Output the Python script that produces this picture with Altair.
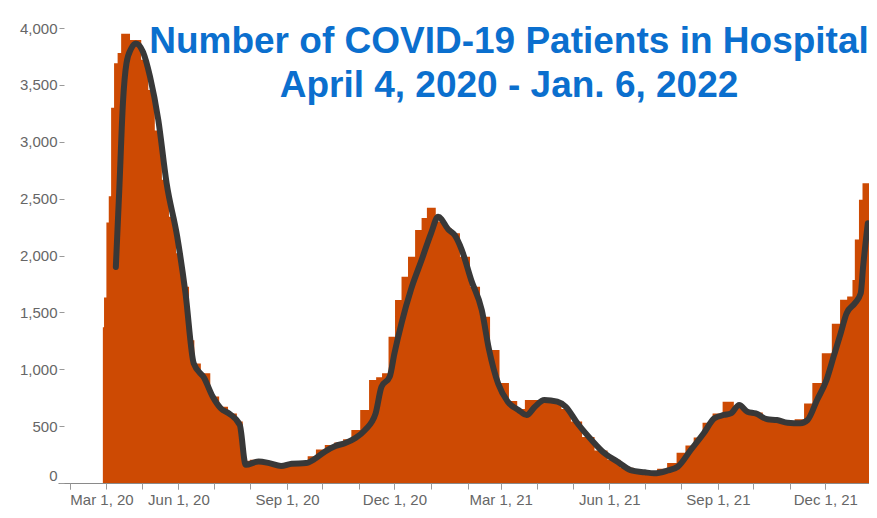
import altair as alt
import pandas as pd

# ---- data ----
area_dates = [
    "2020-03-29", "2020-03-31", "2020-04-02", "2020-04-04", "2020-04-06", "2020-04-09",
    "2020-04-12", "2020-04-15", "2020-04-27", "2020-05-04", "2020-05-09", "2020-05-15",
    "2020-05-21", "2020-05-27", "2020-06-02", "2020-06-07", "2020-06-13", "2020-06-16",
    "2020-06-24", "2020-07-02", "2020-07-09", "2020-07-17", "2020-07-24", "2020-07-27",
    "2020-08-05", "2020-08-13", "2020-08-21", "2020-08-29", "2020-09-06", "2020-09-15",
    "2020-09-22", "2020-09-29", "2020-10-07", "2020-10-15", "2020-10-22", "2020-10-29",
    "2020-11-06", "2020-11-13", "2020-11-18", "2020-11-23", "2020-11-29", "2020-12-04",
    "2020-12-10", "2020-12-15", "2020-12-22", "2020-12-26", "2020-12-31", "2021-01-10",
    "2021-01-16", "2021-01-21",
    "2021-01-30", "2021-02-07", "2021-02-16", "2021-02-24", "2021-03-04", "2021-03-12",
    "2021-03-18", "2021-03-25", "2021-04-11", "2021-04-18", "2021-04-25", "2021-05-04",
    "2021-05-14", "2021-05-25", "2021-06-05", "2021-06-16", "2021-06-27", "2021-07-07",
    "2021-07-16", "2021-07-24", "2021-08-01", "2021-08-08", "2021-08-15", "2021-08-23",
    "2021-09-01", "2021-09-09", "2021-09-20", "2021-09-27", "2021-10-05", "2021-10-13",
    "2021-10-22", "2021-10-31", "2021-11-10", "2021-11-16", "2021-11-24", "2021-12-02",
    "2021-12-11", "2021-12-16", "2021-12-23", "2021-12-25", "2021-12-27", "2022-01-01",
    "2022-01-02", "2022-01-07",
]
area_values = [
    1370, 1630, 2290, 2520, 3300, 3690,
    3780, 3950, 3895, 3720, 3455, 3100,
    2665, 2340, 2020, 1725, 1255, 1050,
    965, 760, 670, 610, 540, 195,
    205, 195, 175, 165, 180, 185,
    235, 295, 335, 355, 385, 466,
    642, 905, 930, 964, 1286, 1609,
    1814, 1990, 2224, 2330, 2420, 2300,
    2240, 2195,
    1990, 1726, 1462, 1169, 880, 720,
    650, 730, 720, 700, 650, 540,
    405, 285, 205, 135, 105, 95,
    125, 175, 265, 330, 400, 530,
    612, 715, 660, 630, 620, 570,
    560, 545, 560, 700, 880, 1140,
    1400, 1610, 1640, 1785, 2140, 2490,
    2635, 2635,
]

line_dates = [
    "2020-04-09", "2020-04-12", "2020-04-15", "2020-04-18", "2020-04-22", "2020-04-26",
    "2020-05-02", "2020-05-08", "2020-05-15", "2020-05-22", "2020-05-31", "2020-06-07",
    "2020-06-14", "2020-06-23", "2020-06-30", "2020-07-07", "2020-07-14", "2020-07-23",
    "2020-07-28", "2020-08-08", "2020-08-17", "2020-08-27", "2020-09-05", "2020-09-17",
    "2020-09-25", "2020-10-03", "2020-10-12", "2020-10-20", "2020-10-29", "2020-11-06",
    "2020-11-15", "2020-11-20", "2020-11-27", "2020-12-01", "2020-12-07", "2020-12-15",
    "2020-12-24", "2021-01-01", "2021-01-07", "2021-01-16", "2021-01-21", "2021-01-27",
    "2021-02-04", "2021-02-13", "2021-02-19", "2021-02-27", "2021-03-07", "2021-03-16",
    "2021-03-23", "2021-03-30", "2021-04-07", "2021-04-18", "2021-04-25", "2021-05-05",
    "2021-05-17", "2021-05-28", "2021-06-08", "2021-06-19", "2021-07-01", "2021-07-09",
    "2021-07-20", "2021-07-29", "2021-08-09", "2021-08-20", "2021-08-29", "2021-09-06",
    "2021-09-12", "2021-09-19", "2021-09-26", "2021-10-03", "2021-10-13", "2021-10-21",
    "2021-10-30", "2021-11-10", "2021-11-16", "2021-11-24", "2021-12-02", "2021-12-08",
    "2021-12-14", "2021-12-19", "2021-12-26", "2021-12-31", "2022-01-02", "2022-01-05",
    "2022-01-06",
]
line_values = [
    1900, 2600, 3340, 3690, 3820, 3865,
    3790, 3570, 3190, 2635, 2165, 1670,
    1050, 920, 760, 655, 610, 510,
    160, 190, 175, 150, 170, 175,
    215, 275, 325, 350, 395, 465,
    610, 845, 935, 1140, 1405, 1700,
    1960, 2195, 2340, 2225, 2180, 2050,
    1785, 1520, 1180, 870, 715, 642,
    598, 671, 730, 715, 671, 525,
    378, 261, 187, 114, 94, 85,
    108, 143, 290, 437, 569, 598,
    612, 686, 627, 612, 560, 554,
    530, 525, 554, 730, 905, 1110,
    1316, 1492, 1580, 1668, 1900, 2195,
    2283,
]

y_ticks = [0, 500, 1000, 1500, 2000, 2500, 3000, 3500, 4000]
x_label_months = [(2020, 3), (2020, 6), (2020, 9), (2020, 12),
                  (2021, 3), (2021, 6), (2021, 9), (2021, 12)]
title_lines = ["Number of COVID-19 Patients in Hospital", "April 4, 2020 - Jan. 6, 2022"]

# ---- styling ----
AREA_COLOR = "#cd4a03"
LINE_COLOR = "#383838"
TITLE_COLOR = "#0b6fce"
LABEL_COLOR = "#666666"
TICK_COLOR = "#9a9a9a"
FONT = "Liberation Sans"

df_area = pd.DataFrame({"date": area_dates, "value": area_values})
df_line = pd.DataFrame({"date": line_dates, "value": line_values})
df_title = pd.DataFrame({"t": ["\n".join(title_lines)]})

major_vals = [alt.DateTime(year=y, month=m, date=1, utc=True) for y, m in x_label_months]
minor_vals = [alt.DateTime(year=y, month=m, date=1, utc=True)
              for y in (2020, 2021) for m in range(1, 13)
              if (y, m) >= (2020, 3)]

xscale = alt.Scale(
    type="utc",
    domain=[alt.DateTime(year=2020, month=2, date=20, utc=True),
            alt.DateTime(year=2022, month=1, date=7, utc=True)],
    nice=False,
)
yscale = alt.Scale(domain=[0, 4176], nice=False, zero=True)

major_axis = alt.Axis(
    values=major_vals, orient="bottom",
    labelExpr="utcFormat(datum.value, '%b %-d, %y')",
    labelFont=FONT, labelFontSize=15, labelColor=LABEL_COLOR, labelPadding=3,
    labelFlush=15, labelOverlap=False,
    tickSize=6, tickColor=TICK_COLOR, domainColor="#8a8a8a", grid=False, title=None,
)
minor_axis = alt.Axis(
    values=minor_vals, orient="bottom", labels=False, domain=False,
    tickSize=6, tickColor=TICK_COLOR, grid=False, title=None,
)
yaxis = alt.Axis(
    values=y_ticks, format=",d", labelFont=FONT, labelFontSize=15,
    labelColor=LABEL_COLOR, labelPadding=2, labelFlush=True,
    tickSize=5, tickColor=TICK_COLOR, domain=False, grid=False, offset=-6, title=None,
)

area = alt.Chart(df_area).mark_area(
    interpolate="step", color=AREA_COLOR, clip=True
).encode(
    x=alt.X("date:T", scale=xscale, axis=major_axis),
    y=alt.Y("value:Q", scale=yscale, axis=yaxis),
)

line = alt.Chart(df_line).mark_line(
    color=LINE_COLOR, strokeWidth=6, strokeCap="round", strokeJoin="round",
    interpolate="monotone", clip=True
).encode(
    x=alt.X("date:T", scale=xscale, axis=minor_axis),
    y=alt.Y("value:Q", scale=yscale, axis=yaxis),
)

title = alt.Chart(df_title).mark_text(
    align="center", baseline="alphabetic", font=FONT, fontWeight="bold",
    fontSize=37, color=TITLE_COLOR, lineBreak="\n", lineHeight=44
).encode(
    x=alt.value(451), y=alt.value(45), text="t:N"
)

chart = alt.layer(area, line, title).resolve_axis(x="independent").properties(
    width=811, height=475,
    autosize=alt.AutoSizeParams(type="none"),
    padding={"left": 50, "top": 0, "right": 0, "bottom": 30},
).configure_view(strokeWidth=0)

chart.save("out.html", embed_options={"renderer": "svg", "actions": False})
